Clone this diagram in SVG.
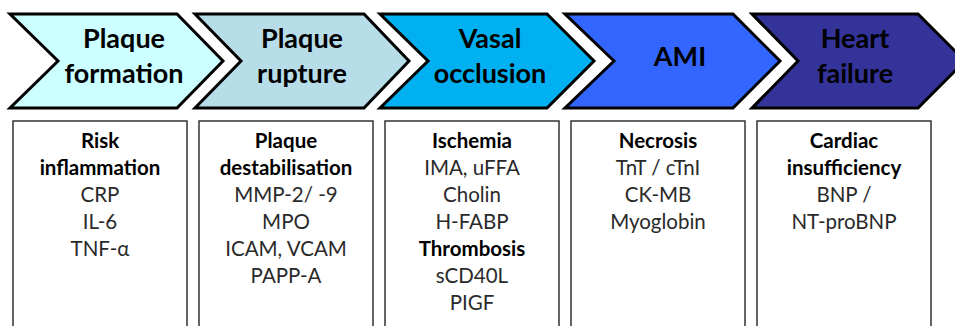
<svg xmlns="http://www.w3.org/2000/svg" width="955" height="326" viewBox="0 0 955 326">
<style>
.chev{stroke:#000;stroke-width:3;stroke-linejoin:miter}
.ct{font-family:Lato,"Liberation Sans",sans-serif;font-weight:bold;font-size:27px;fill:#000;text-anchor:middle}
.box{fill:#fff;stroke:#333;stroke-width:1.5}
.bt{font-family:Lato,"Liberation Sans",sans-serif;font-size:20.5px;fill:#2a2a2a;text-anchor:middle}
.bb{font-weight:bold;fill:#000}
</style>
<rect width="955" height="326" fill="#fff"/>
<g id="stage1">
<path class="chev" fill="#CCFFFF" d="M10,14 H177 L223,61 L177,108 H10 L58,61 Z"/>
<text class="ct" x="124" y="48">Plaque</text>
<text class="ct" x="124" y="83">formation</text>
</g>
<g id="stage2">
<path class="chev" fill="#B7DDE8" d="M195,14 H364 L409,61 L364,108 H195 L241,61 Z"/>
<text class="ct" x="302" y="48">Plaque</text>
<text class="ct" x="302" y="83">rupture</text>
</g>
<g id="stage3">
<path class="chev" fill="#00B0F0" d="M380,14 H547 L594,61 L547,108 H380 L428,61 Z"/>
<text class="ct" x="490" y="48">Vasal</text>
<text class="ct" x="490" y="83">occlusion</text>
</g>
<g id="stage4">
<path class="chev" fill="#3366FF" d="M565,14 H733 L780,61 L733,108 H565 L614,61 Z"/>
<text class="ct" x="680" y="66">AMI</text>
</g>
<g id="stage5">
<path class="chev" fill="#333399" d="M752,14 H918 L965,61 L918,108 H752 L798,61 Z"/>
<text class="ct" x="855" y="48">Heart</text>
<text class="ct" x="855" y="83">failure</text>
</g>
<g id="box1">
<rect class="box" x="13" y="121" width="174" height="220"/>
<text class="bt"><tspan class="bb" x="100" y="148">Risk</tspan><tspan class="bb" x="100" y="175">inflammation</tspan><tspan x="100" y="202">CRP</tspan><tspan x="100" y="229">IL-6</tspan><tspan x="100" y="256">TNF-α</tspan></text>
</g>
<g id="box2">
<rect class="box" x="199" y="121" width="174" height="220"/>
<text class="bt"><tspan class="bb" x="286" y="148">Plaque</tspan><tspan class="bb" x="286" y="175">destabilisation</tspan><tspan x="286" y="202">MMP-2/ -9</tspan><tspan x="286" y="229">MPO</tspan><tspan x="286" y="256">ICAM, VCAM</tspan><tspan x="286" y="283">PAPP-A</tspan></text>
</g>
<g id="box3">
<rect class="box" x="385" y="121" width="174" height="220"/>
<text class="bt"><tspan class="bb" x="472" y="148">Ischemia</tspan><tspan x="472" y="175">IMA, uFFA</tspan><tspan x="472" y="202">Cholin</tspan><tspan x="472" y="229">H-FABP</tspan><tspan class="bb" x="472" y="256">Thrombosis</tspan><tspan x="472" y="283">sCD40L</tspan><tspan x="472" y="310">PIGF</tspan></text>
</g>
<g id="box4">
<rect class="box" x="571" y="121" width="174" height="220"/>
<text class="bt"><tspan class="bb" x="658" y="148">Necrosis</tspan><tspan x="658" y="175">TnT / cTnI</tspan><tspan x="658" y="202">CK-MB</tspan><tspan x="658" y="229">Myoglobin</tspan></text>
</g>
<g id="box5">
<rect class="box" x="757" y="121" width="174" height="220"/>
<text class="bt"><tspan class="bb" x="844" y="148">Cardiac</tspan><tspan class="bb" x="844" y="175">insufficiency</tspan><tspan x="844" y="202">BNP /</tspan><tspan x="844" y="229">NT-proBNP</tspan></text>
</g>
<g id="connectors"/>
</svg>
